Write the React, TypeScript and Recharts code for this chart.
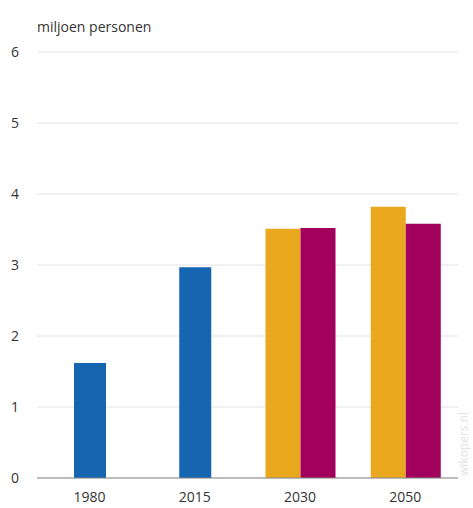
import React from "react";
import { BarChart, Bar, XAxis, YAxis, CartesianGrid } from "recharts";

const categories = ["1980", "2015", "2030", "2050"];
const observed = [1.62, 2.97, null, null];
const scenarioA = [null, null, 3.51, 3.82];
const scenarioB = [null, null, 3.52, 3.58];
const yTicks = [0, 1, 2, 3, 4, 5, 6];

const data = categories.map((c, i) => ({
  year: c,
  observed: observed[i],
  scenarioA: scenarioA[i],
  scenarioB: scenarioB[i],
}));

const FONT = "'Open Sans', 'Noto Sans', sans-serif";

export default function App() {
  return (
    <div style={{ position: "absolute", left: 0, top: 0, width: 473, height: 508, background: "#fff", fontFamily: FONT, overflow: "hidden" }}>
      <div style={{ position: "absolute", left: 37, top: 17, fontSize: 14, color: "#333", fontFamily: FONT }}>
        miljoen personen
      </div>
      <div
        style={{
          position: "absolute",
          left: 456,
          top: 476,
          transform: "rotate(-90deg)",
          transformOrigin: "left top",
          fontSize: 12,
          lineHeight: "16px",
          color: "#e3e3e3",
          whiteSpace: "nowrap",
          fontFamily: FONT,
        }}
      >
        wikopers.nl
      </div>
      <BarChart
        width={473}
        height={508}
        data={data}
        margin={{ top: 52, right: 15, bottom: 0, left: 0 }}
        barGap={0}
        style={{ fontFamily: FONT }}
      >
        <CartesianGrid vertical={false} stroke="#e2e2e2" />
        <XAxis xAxisId="pair" dataKey="year" hide height={0} />
        <XAxis
          xAxisId="single"
          dataKey="year"
          axisLine={{ stroke: "#888" }}
          tickLine={false}
          tickMargin={8}
          height={30}
          tick={{ fill: "#333", fontSize: 14, fontFamily: FONT }}
        />
        <YAxis
          xAxisId="single"
          domain={[0, 6]}
          ticks={yTicks}
          axisLine={false}
          tickLine={false}
          tickMargin={12}
          width={37}
          tick={{ fill: "#333", fontSize: 14, fontFamily: FONT }}
        />
        <Bar xAxisId="single" dataKey="observed" fill="#1565b0" barSize={32} isAnimationActive={false} />
        <Bar xAxisId="pair" dataKey="scenarioA" fill="#e9a81e" barSize={35} isAnimationActive={false} />
        <Bar xAxisId="pair" dataKey="scenarioB" fill="#a1005c" barSize={35} isAnimationActive={false} />
      </BarChart>
    </div>
  );
}
